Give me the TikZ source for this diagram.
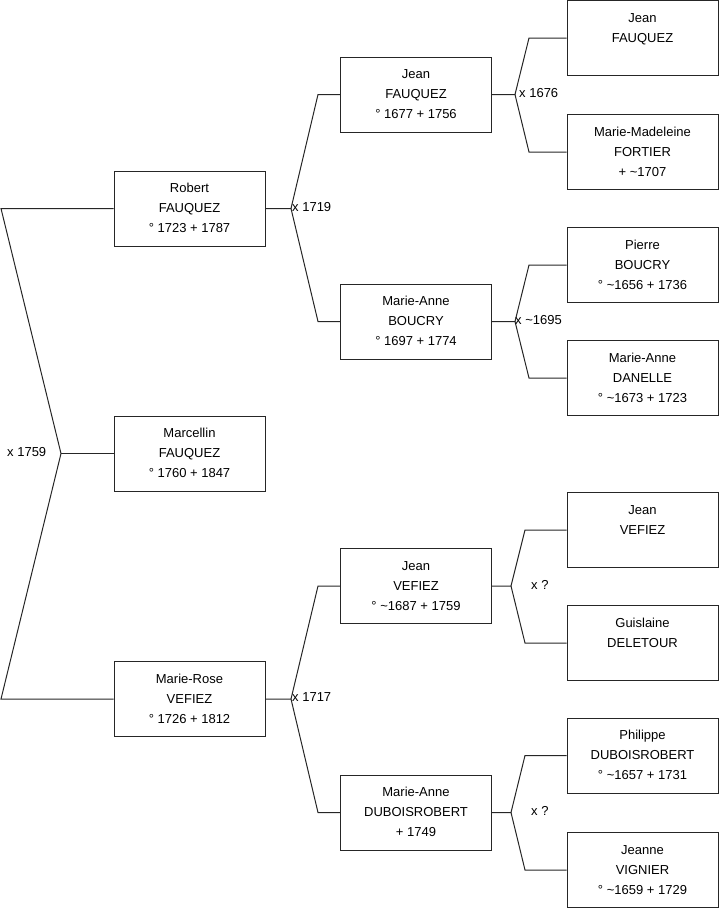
\documentclass[tikz,border=0pt]{standalone}
\usepackage{fontspec}
\setmainfont{Liberation Sans}
\newcommand{\tld}{\textasciitilde}
\newcommand{\pp}[3]{\strut#1\\\strut#2\\\strut#3}
\begin{document}
\begin{tikzpicture}[x=1pt,y=-1pt,
  person/.style={draw=black!85,line width=1pt,rectangle,minimum width=151pt,minimum height=75pt,inner sep=0pt,align=center,font=\fontsize{13}{20}\selectfont},
  link/.style={draw=black!85,line width=1pt},
  mlabel/.style={anchor=west,inner sep=0pt,font=\fontsize{13}{16}\selectfont}]
\useasboundingbox (0,0) rectangle (719,908);
% generation 1
\node[person] (f) at (189.5,208.5) {\pp{Robert}{FAUQUEZ}{° 1723 + 1787}};
\node[person] (p) at (189.5,453.5) {\pp{Marcellin}{FAUQUEZ}{° 1760 + 1847}};
\node[person] (m) at (189.5,699) {\pp{Marie-Rose}{VEFIEZ}{° 1726 + 1812}};
% generation 2
\node[person] (ff) at (416,94.5) {\pp{Jean}{FAUQUEZ}{° 1677 + 1756}};
\node[person] (fm) at (416,321.5) {\pp{Marie-Anne}{BOUCRY}{° 1697 + 1774}};
\node[person] (mf) at (416,586) {\pp{Jean}{VEFIEZ}{° \tld1687 + 1759}};
\node[person] (mm) at (416,812.5) {\pp{Marie-Anne}{DUBOISROBERT}{+ 1749}};
% generation 3
\node[person] (fff) at (642.5,38) {\pp{Jean}{FAUQUEZ}{}};
\node[person] (ffm) at (642.5,152) {\pp{Marie-Madeleine}{FORTIER}{+ \tld1707}};
\node[person] (fmf) at (642.5,265) {\pp{Pierre}{BOUCRY}{° \tld1656 + 1736}};
\node[person] (fmm) at (642.5,378) {\pp{Marie-Anne}{DANELLE}{° \tld1673 + 1723}};
\node[person] (mff) at (642.5,530) {\pp{Jean}{VEFIEZ}{}};
\node[person] (mfm) at (642.5,643) {\pp{Guislaine}{DELETOUR}{}};
\node[person] (mmf) at (642.5,755.5) {\pp{Philippe}{DUBOISROBERT}{° \tld1657 + 1731}};
\node[person] (mmm) at (642.5,870) {\pp{Jeanne}{VIGNIER}{° \tld1659 + 1729}};
% fork 0
\coordinate (a0) at (1,208.5);
\coordinate (v0) at (61,453.5);
\coordinate (b0) at (1,699);
\draw[link] (f.west) -- (a0) -- (v0) -- (b0) -- (m.west);
\draw[link] (v0) -- (p.west);
\node[mlabel] (l0) at (7,452) {x 1759};
% fork 1
\coordinate (v1) at (291,208.5);
\coordinate (a1) at (318,94.5);
\coordinate (b1) at (318,321.5);
\draw[link] (f.east) -- (v1) -- (a1) -- (ff.west);
\draw[link] (v1) -- (b1) -- (fm.west);
\node[mlabel] (l1) at (292,207) {x 1719};
% fork 2
\coordinate (v2) at (291,699);
\coordinate (a2) at (318,586);
\coordinate (b2) at (318,812.5);
\draw[link] (m.east) -- (v2) -- (a2) -- (mf.west);
\draw[link] (v2) -- (b2) -- (mm.west);
\node[mlabel] (l2) at (292,697.5) {x 1717};
% fork 3
\coordinate (v3) at (515,94.5);
\coordinate (a3) at (529,38);
\coordinate (b3) at (529,152);
\draw[link] (ff.east) -- (v3) -- (a3) -- (fff.west);
\draw[link] (v3) -- (b3) -- (ffm.west);
\node[mlabel] (l3) at (519,93) {x 1676};
% fork 4
\coordinate (v4) at (515,321.5);
\coordinate (a4) at (529,265);
\coordinate (b4) at (529,378);
\draw[link] (fm.east) -- (v4) -- (a4) -- (fmf.west);
\draw[link] (v4) -- (b4) -- (fmm.west);
\node[mlabel] (l4) at (515,320) {x \tld1695};
% fork 5
\coordinate (v5) at (511,586);
\coordinate (a5) at (525,530);
\coordinate (b5) at (525,643);
\draw[link] (mf.east) -- (v5) -- (a5) -- (mff.west);
\draw[link] (v5) -- (b5) -- (mfm.west);
\node[mlabel] (l5) at (531,584.5) {x ?};
% fork 6
\coordinate (v6) at (511,812.5);
\coordinate (a6) at (525,755.5);
\coordinate (b6) at (525,870);
\draw[link] (mm.east) -- (v6) -- (a6) -- (mmf.west);
\draw[link] (v6) -- (b6) -- (mmm.west);
\node[mlabel] (l6) at (531,811) {x ?};
\end{tikzpicture}
\end{document}
